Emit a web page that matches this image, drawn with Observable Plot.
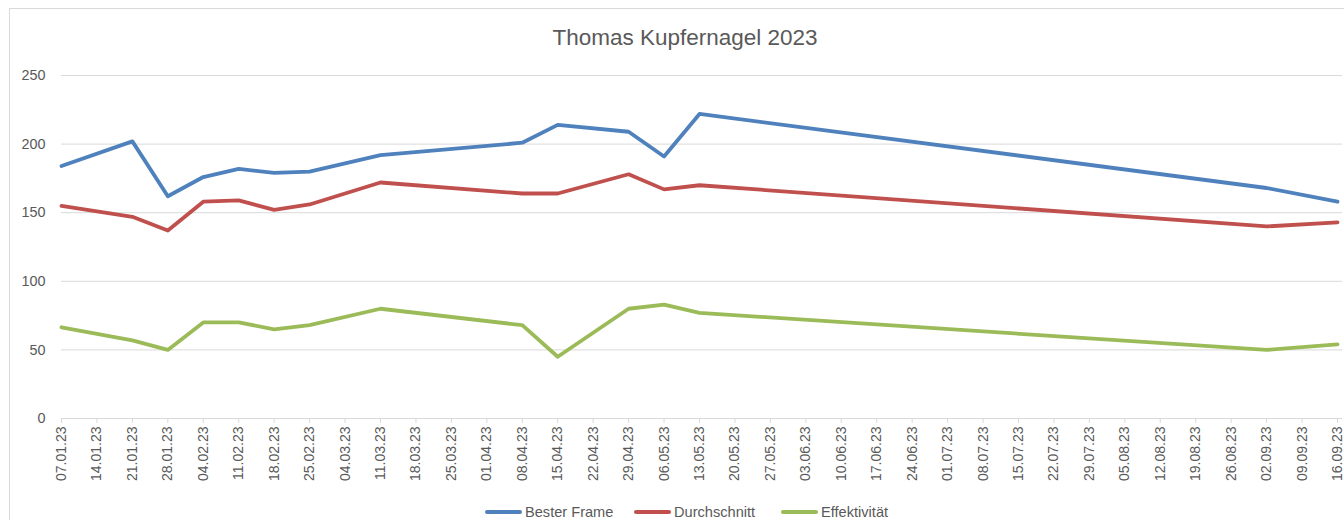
<!DOCTYPE html>
<html>
<head>
<meta charset="utf-8">
<script src="https://cdn.jsdelivr.net/npm/d3@7"></script>
<script src="https://cdn.jsdelivr.net/npm/@observablehq/plot@0.6"></script>
<style>
  html, body { margin: 0; padding: 0; background: #fff; }
  #wrap { position: relative; width: 1344px; height: 520px; overflow: hidden; font-family: "Liberation Sans", Arial, sans-serif; color: #595959; }
  #border { position: absolute; left: 9px; top: 8px; width: 1400px; height: 600px; border: 1px solid #d9d9d9; box-sizing: border-box; }
  #title { position: absolute; left: 0; width: 1370px; top: 27px; text-align: center; font-size: 22.5px; line-height: 22px; color: #595959; }
  #chart { position: absolute; left: 0; top: 60px; }
  #legend { position: absolute; left: 0; top: 505px; width: 1344px; height: 20px; font-size: 14.6px; line-height: 14px; color: #595959; }
  .sw { position: absolute; top: 5px; width: 37px; height: 4px; border-radius: 2px; }
  .tx { position: absolute; top: 0; white-space: nowrap; }
</style>
</head>
<body>
<div id="wrap">
  <div id="border"></div>
  <div id="title">Thomas Kupfernagel 2023</div>
  <div id="chart"></div>
  <div id="legend"></div>
</div>
<script>
const title = "Thomas Kupfernagel 2023";
const seriesNames = ["Bester Frame", "Durchschnitt", "Effektivität"];
const seriesColors = ["#4f81bd", "#c0504d", "#9bbb59"];
const dates = ["07.01.23","21.01.23","28.01.23","04.02.23","11.02.23","18.02.23","25.02.23","11.03.23","08.04.23","15.04.23","29.04.23","06.05.23","13.05.23","02.09.23","16.09.23"];
const besterFrame  = [184, 202, 162, 176, 182, 179, 180, 192, 201, 214, 209, 191, 222, 168, 158];
const durchschnitt = [155, 147, 137, 158, 159, 152, 156, 172, 164, 164, 178, 167, 170, 140, 143];
const effektivitaet = [66.5, 57, 50, 70, 70, 65, 68, 80, 68, 45, 80, 83, 77, 50, 54];
const xTickLabels = ["07.01.23","14.01.23","21.01.23","28.01.23","04.02.23","11.02.23","18.02.23","25.02.23","04.03.23","11.03.23","18.03.23","25.03.23","01.04.23","08.04.23","15.04.23","22.04.23","29.04.23","06.05.23","13.05.23","20.05.23","27.05.23","03.06.23","10.06.23","17.06.23","24.06.23","01.07.23","08.07.23","15.07.23","22.07.23","29.07.23","05.08.23","12.08.23","19.08.23","26.08.23","02.09.23","09.09.23","16.09.23"];
const yTicks = [0, 50, 100, 150, 200, 250];

const parse = d3.utcParse("%d.%m.%y");
const fmt = d3.utcFormat("%d.%m.%y");
const allValues = [besterFrame, durchschnitt, effektivitaet];
const rows = [];
seriesNames.forEach((name, i) => {
  dates.forEach((d, j) => rows.push({series: name, date: parse(d), value: allValues[i][j]}));
});
const xTicks = xTickLabels.map(parse);

const chart = Plot.plot({
  width: 1344,
  height: 440,
  marginTop: 15,
  marginBottom: 82,
  marginLeft: 61,
  marginRight: 2,
  style: { fontFamily: "'Liberation Sans', Arial, sans-serif", fontSize: "14px", color: "#595959", background: "transparent" },
  x: { type: "utc", domain: [xTicks[0], xTicks[xTicks.length - 1]], range: [61, 1337] },
  y: { domain: [0, 250] },
  color: { domain: seriesNames, range: seriesColors },
  marks: [
    Plot.gridY(yTicks, { stroke: "#d9d9d9", strokeOpacity: 1, strokeWidth: 1 }),
    Plot.axisY(yTicks, { tickSize: 0, tickPadding: 16, fill: "#595959", fontSize: 14.4, label: null }),
    Plot.ruleY([0], { stroke: "#d9d9d9", strokeWidth: 1 }),
    Plot.axisX(xTicks, { tickFormat: fmt, tickRotate: -90, tickSize: 5, tickPadding: 3, stroke: "#d9d9d9", fill: "#595959", fontSize: 14, label: null }),
    Plot.line(rows, { x: "date", y: "value", z: "series", stroke: "series", strokeWidth: 3.8, strokeLinejoin: "round", strokeLinecap: "round" })
  ]
});
document.getElementById("chart").appendChild(chart);

const legend = document.getElementById("legend");
const legendX = [485, 634, 781];
seriesNames.forEach((name, i) => {
  const sw = document.createElement("div");
  sw.className = "sw";
  sw.style.left = legendX[i] + "px";
  sw.style.background = seriesColors[i];
  const tx = document.createElement("span");
  tx.className = "tx";
  tx.style.left = (legendX[i] + 40) + "px";
  tx.textContent = name;
  legend.appendChild(sw); legend.appendChild(tx);
});
</script>
</body>
</html>
